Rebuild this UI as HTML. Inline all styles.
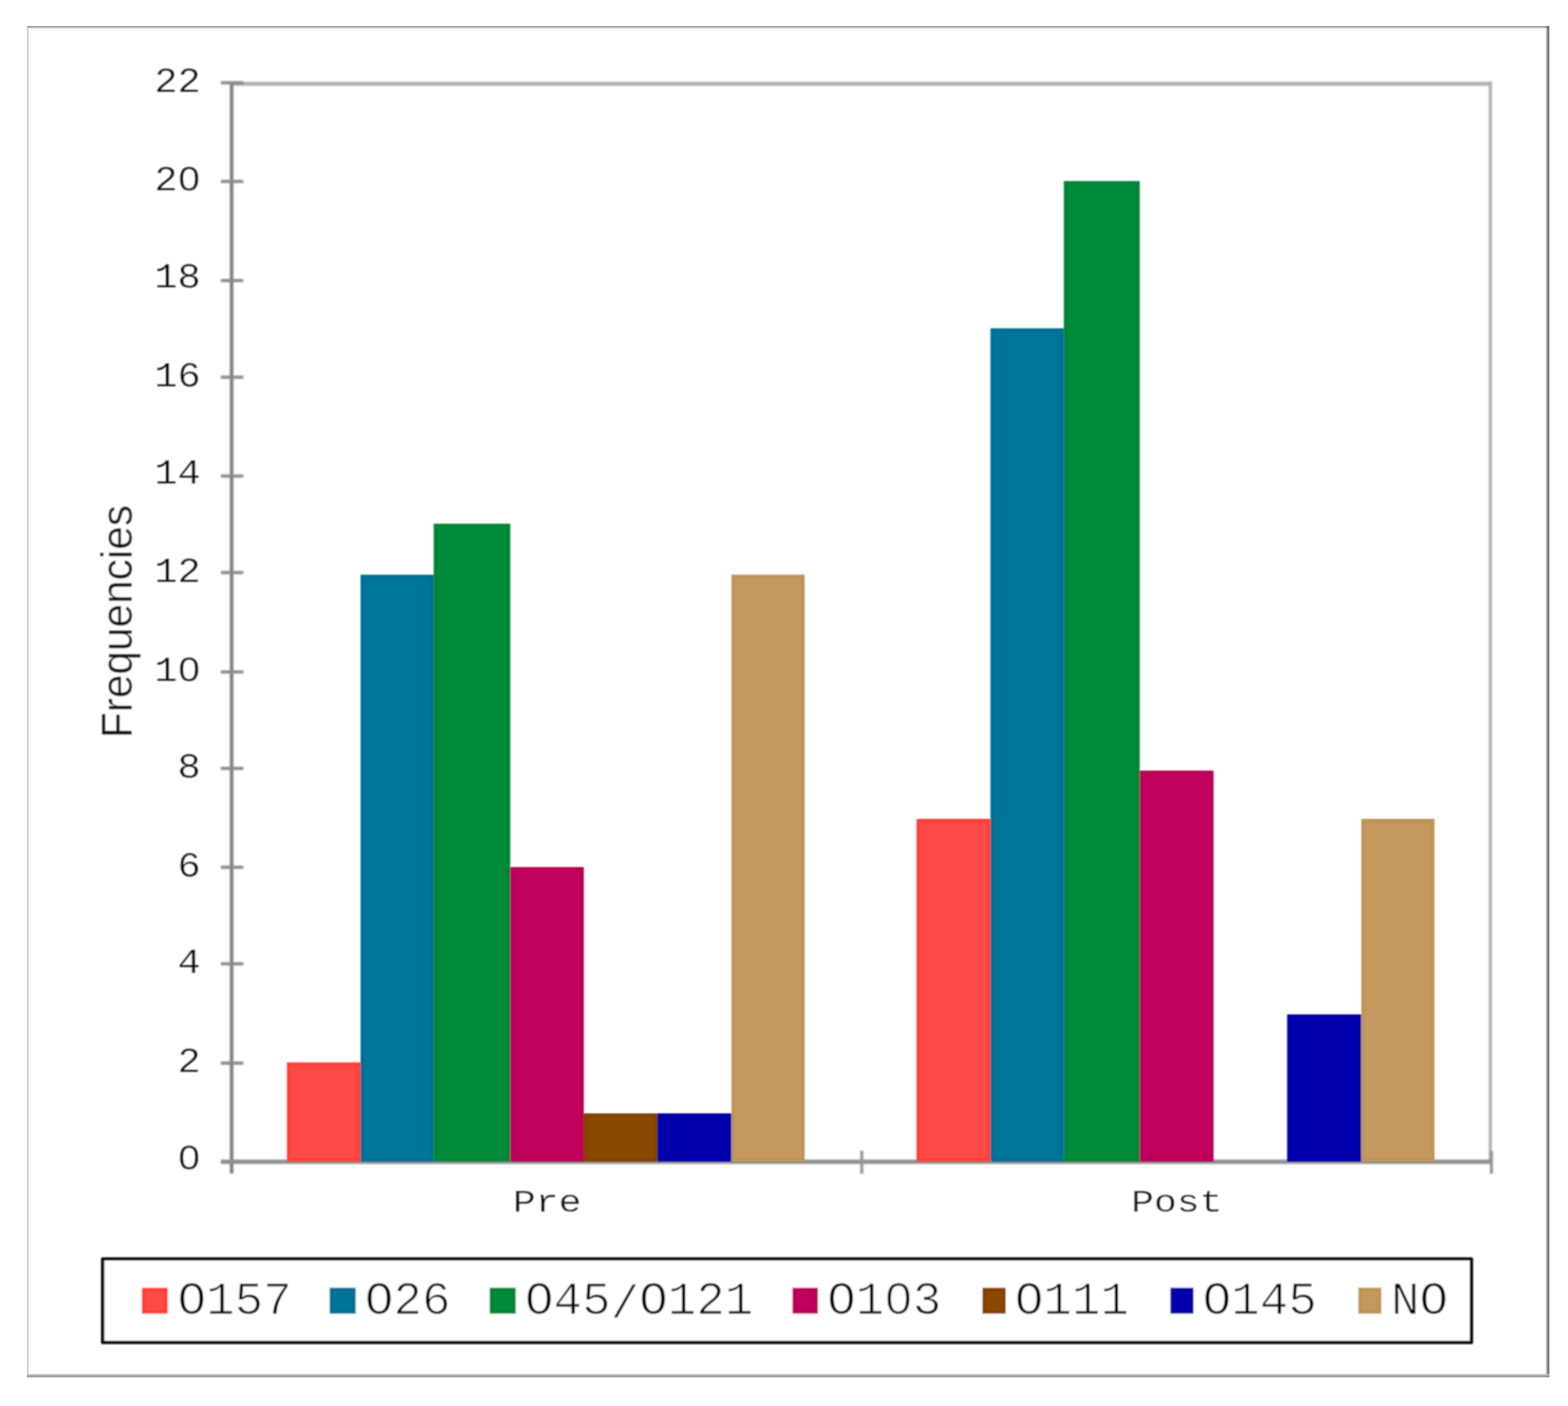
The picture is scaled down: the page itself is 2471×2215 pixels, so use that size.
<!DOCTYPE html>
<html lang="en">
<head>
<meta charset="utf-8">
<title>Frequencies Pre / Post</title>
<style>
html,body{margin:0;padding:0;background:#fff;}
body{width:2471px;height:2215px;}
svg{display:block;}
.mono{font-family:"Liberation Mono","DejaVu Sans Mono",monospace;fill:#000;stroke:#fff;stroke-width:0.45px;}
.sans{font-family:"Liberation Sans","DejaVu Sans",sans-serif;fill:#111;stroke:#fff;stroke-width:0.6px;}
.tick{font-size:61px;}
.leg{font-size:75px;stroke-width:1.3px;}
.cat{font-size:60px;stroke:#fff;stroke-width:0.5px;}
</style>
</head>
<body>
<svg width="2471" height="2215" viewBox="0 0 2471 2215" role="img" aria-label="Grouped bar chart of serogroup frequencies, Pre versus Post">
<defs>
<filter id="b" x="-2%" y="-2%" width="104%" height="104%"><feGaussianBlur stdDeviation="1.5"/></filter>
<filter id="k" x="-2%" y="-2%" width="104%" height="104%"><feGaussianBlur stdDeviation="1.1"/></filter>
<filter id="t" x="-2%" y="-2%" width="104%" height="104%"><feGaussianBlur stdDeviation="1.0"/></filter>
<clipPath id="c"><rect x="42.75" y="41.06" width="2398.85" height="2128.64"/></clipPath>
</defs>
<rect x="0" y="0" width="2471" height="2215" fill="#fff"/>
<g clip-path="url(#c)">
<g filter="url(#b)">
<rect x="30" y="34" width="2420" height="9.4" fill="#848484"/>
<rect x="34" y="34" width="9.9" height="2150" fill="#9c9c9c"/>
<rect x="2437.4" y="34" width="12" height="2150" fill="#707070"/>
</g>
<g filter="url(#k)">
<rect x="30" y="2164.3" width="2420" height="2" fill="#cfcfcf"/>
<rect x="30" y="2166.1" width="2420" height="10" fill="#999"/>
</g>
</g>
<g filter="url(#b)">
<rect x="365.0" y="128.9" width="1986.1" height="6.2" fill="#b0b0b0"/>
<rect x="2346.1" y="128.5" width="5" height="1700" fill="#b0b0b0"/>
<rect x="362.2" y="128.2" width="5.6" height="1720.6" fill="#808080"/>
<rect x="348" y="1826.9" width="2003.5" height="6.7" fill="#8e8e8e"/>
<rect x="348" y="1672.3" width="35.5" height="5" fill="#8a8a8a"/>
<rect x="348" y="1515.9" width="35.5" height="5" fill="#8a8a8a"/>
<rect x="348" y="1363.8" width="35.5" height="5" fill="#8a8a8a"/>
<rect x="348" y="1208.0" width="35.5" height="5" fill="#8a8a8a"/>
<rect x="348" y="1056.1" width="35.5" height="5" fill="#8a8a8a"/>
<rect x="348" y="899.5" width="35.5" height="5" fill="#8a8a8a"/>
<rect x="348" y="747.5" width="35.5" height="5" fill="#8a8a8a"/>
<rect x="348" y="591.8" width="35.5" height="5" fill="#8a8a8a"/>
<rect x="348" y="439.5" width="35.5" height="5" fill="#8a8a8a"/>
<rect x="348" y="283.3" width="35.5" height="5" fill="#8a8a8a"/>
<rect x="348" y="127.9" width="35.5" height="5" fill="#8a8a8a"/>
<rect x="1355.7" y="1813" width="4.8" height="36" fill="#949494"/>
<rect x="2347.9" y="1813" width="4.8" height="36" fill="#949494"/>
</g>
<g filter="url(#k)">
<rect x="452.3" y="1673.7" width="115.9" height="156.2" fill="#FF3D38"/>
<rect x="457.5" y="1678.9" width="105.5" height="145.8" fill="#FF4A46"/>
<rect x="568.2" y="905.4" width="115.3" height="924.5" fill="#006E96"/>
<rect x="573.4" y="910.6" width="104.9" height="914.1" fill="#00759B"/>
<rect x="683.5" y="825.1" width="120.6" height="1004.8" fill="#008530"/>
<rect x="688.7" y="830.3" width="110.2" height="994.4" fill="#008A3A"/>
<rect x="804.1" y="1366.0" width="115.9" height="463.9" fill="#B80054"/>
<rect x="809.3" y="1371.2" width="105.5" height="453.5" fill="#BF005B"/>
<rect x="920.0" y="1754.0" width="116.0" height="75.9" fill="#844100"/>
<rect x="925.2" y="1759.2" width="105.6" height="65.5" fill="#8B4800"/>
<rect x="1036.0" y="1754.0" width="116.7" height="75.9" fill="#0000A7"/>
<rect x="1041.2" y="1759.2" width="106.3" height="65.5" fill="#0000AC"/>
<rect x="1152.7" y="905.4" width="115.3" height="924.5" fill="#BE9356"/>
<rect x="1157.9" y="910.6" width="104.9" height="914.1" fill="#C3995F"/>
<rect x="1444.4" y="1290.0" width="116.5" height="539.9" fill="#FF3D38"/>
<rect x="1449.6" y="1295.2" width="106.1" height="529.5" fill="#FF4A46"/>
<rect x="1560.9" y="517.2" width="115.6" height="1312.7" fill="#006E96"/>
<rect x="1566.1" y="522.4" width="105.2" height="1302.3" fill="#00759B"/>
<rect x="1676.5" y="285.2" width="119.6" height="1544.7" fill="#008530"/>
<rect x="1681.7" y="290.4" width="109.2" height="1534.3" fill="#008A3A"/>
<rect x="1796.1" y="1214.0" width="116.3" height="615.9" fill="#B80054"/>
<rect x="1801.3" y="1219.2" width="105.9" height="605.5" fill="#BF005B"/>
<rect x="2028.4" y="1598.1" width="116.9" height="231.8" fill="#0000A7"/>
<rect x="2033.6" y="1603.3" width="106.5" height="221.4" fill="#0000AC"/>
<rect x="2145.3" y="1290.0" width="115.3" height="539.9" fill="#BE9356"/>
<rect x="2150.5" y="1295.2" width="104.9" height="529.5" fill="#C3995F"/>
<rect x="161.8" y="1983.4" width="2157" height="131.4" fill="#fff" stroke="#0c0c0c" stroke-width="5.3" stroke-linejoin="round"/>
<rect x="223.7" y="2028.7" width="40.5" height="40.8" fill="#FF3D38"/>
<rect x="228.9" y="2033.9" width="30.1" height="30.4" fill="#FF4A46"/>
<rect x="519.5" y="2028.7" width="41.0" height="40.8" fill="#006E96"/>
<rect x="524.7" y="2033.9" width="30.6" height="30.4" fill="#00759B"/>
<rect x="771.7" y="2028.7" width="41.0" height="40.8" fill="#008530"/>
<rect x="776.9" y="2033.9" width="30.6" height="30.4" fill="#008A3A"/>
<rect x="1248.8" y="2028.7" width="40.2" height="40.8" fill="#B80054"/>
<rect x="1254.0" y="2033.9" width="29.8" height="30.4" fill="#BF005B"/>
<rect x="1548.3" y="2028.7" width="36.6" height="40.8" fill="#844100"/>
<rect x="1553.5" y="2033.9" width="26.2" height="30.4" fill="#8B4800"/>
<rect x="1844.4" y="2028.7" width="36.6" height="40.8" fill="#0000A7"/>
<rect x="1849.6" y="2033.9" width="26.2" height="30.4" fill="#0000AC"/>
<rect x="2140.6" y="2028.7" width="36.1" height="40.8" fill="#BE9356"/>
<rect x="2145.8" y="2033.9" width="25.7" height="30.4" fill="#C3995F"/>
</g>
<g filter="url(#t)">
<text class="mono tick" transform="translate(316.4 144.6) scale(1 0.9)" text-anchor="end">22</text>
<text class="mono tick" transform="translate(316.4 300.4) scale(1 0.9)" text-anchor="end">20</text><ellipse cx="298.1" cy="282.3" rx="6.1" ry="7.1" fill="#fff"/>
<text class="mono tick" transform="translate(316.4 452.9) scale(1 0.9)" text-anchor="end">18</text>
<text class="mono tick" transform="translate(316.4 608.7) scale(1 0.9)" text-anchor="end">16</text>
<text class="mono tick" transform="translate(316.4 761.5) scale(1 0.9)" text-anchor="end">14</text>
<text class="mono tick" transform="translate(316.4 917.3) scale(1 0.9)" text-anchor="end">12</text>
<text class="mono tick" transform="translate(316.4 1073.1) scale(1 0.9)" text-anchor="end">10</text><ellipse cx="298.1" cy="1055.0" rx="6.1" ry="7.1" fill="#fff"/>
<text class="mono tick" transform="translate(316.4 1225.1) scale(1 0.9)" text-anchor="end">8</text>
<text class="mono tick" transform="translate(316.4 1380.9) scale(1 0.9)" text-anchor="end">6</text>
<text class="mono tick" transform="translate(316.4 1532.9) scale(1 0.9)" text-anchor="end">4</text>
<text class="mono tick" transform="translate(316.4 1689.2) scale(1 0.9)" text-anchor="end">2</text>
<text class="mono tick" transform="translate(316.4 1841.5) scale(1 0.9)" text-anchor="end">0</text><ellipse cx="298.1" cy="1823.4" rx="6.1" ry="7.1" fill="#fff"/>
<text class="mono cat" transform="translate(862.3 1909.2) scale(1 0.835)" text-anchor="middle">Pre</text>
<text class="mono cat" transform="translate(1854.4 1909.2) scale(1 0.835)" text-anchor="middle">Post</text>
<text class="sans" font-size="69" transform="translate(207.6 979.2) rotate(-90) scale(0.968 1)" text-anchor="middle">Frequencies</text>
<text class="mono leg" transform="translate(279.8 2069.5) scale(1 0.96)" text-anchor="start">O157</text>
<text class="mono leg" transform="translate(575.1 2069.5) scale(1 0.96)" text-anchor="start">O26</text>
<text class="mono leg" transform="translate(827.3 2069.5) scale(1 0.96)" text-anchor="start">O45<tspan dy="7">/</tspan><tspan dy="-7">O121</tspan></text>
<text class="mono leg" transform="translate(1303.6 2069.5) scale(1 0.96)" text-anchor="start">O103</text><ellipse cx="1416.1" cy="2045.7" rx="7.5" ry="9.4" fill="#fff"/>
<text class="mono leg" transform="translate(1599.2 2069.5) scale(1 0.96)" text-anchor="start">O111</text>
<text class="mono leg" transform="translate(1895.3 2069.5) scale(1 0.96)" text-anchor="start">O145</text>
<text class="mono leg" transform="translate(2192.0 2069.5) scale(1 0.96)" text-anchor="start">NO</text>
</g>
</svg>
</body>
</html>
